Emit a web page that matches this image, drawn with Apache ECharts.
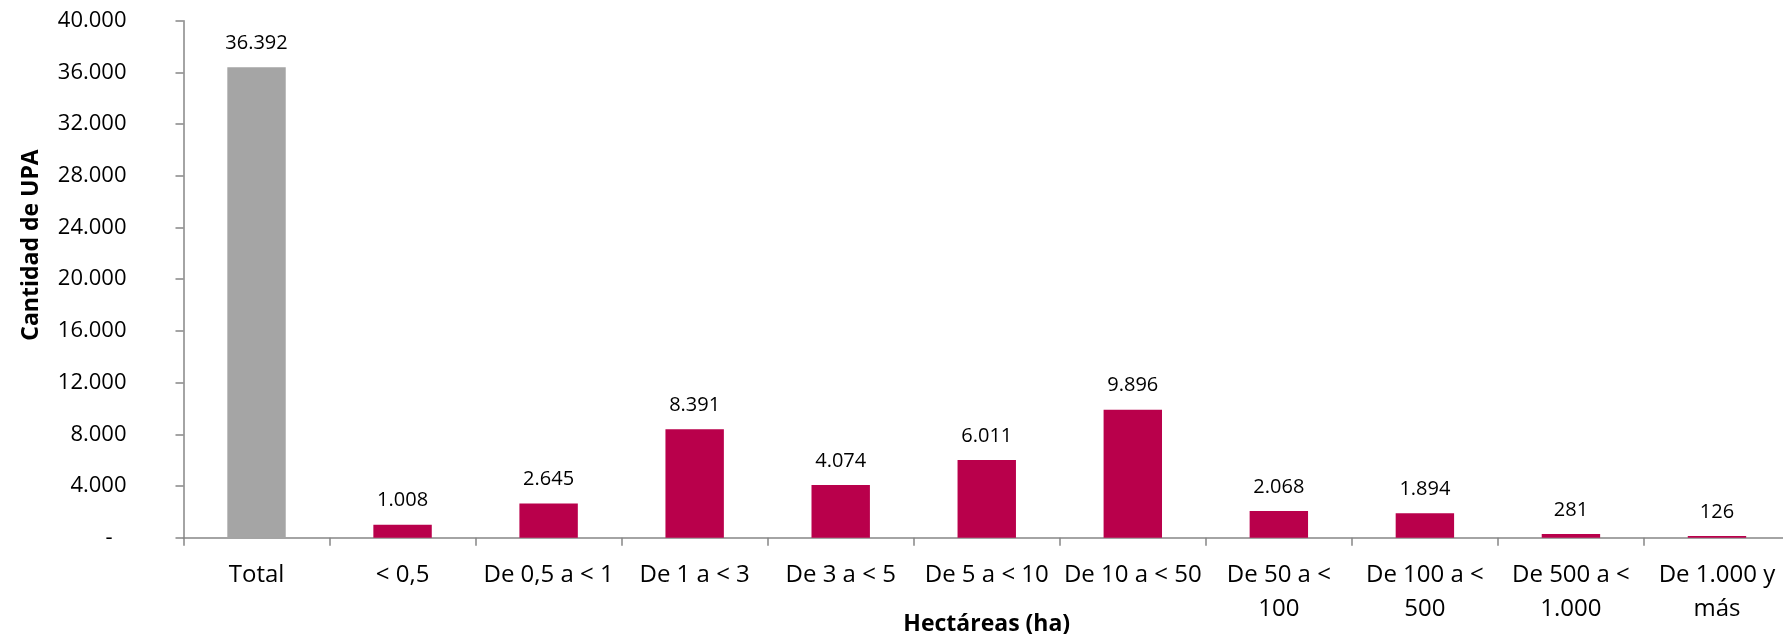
<!DOCTYPE html>
<html>
<head>
<meta charset="utf-8">
<script src="https://cdn.jsdelivr.net/npm/echarts@6/dist/echarts.min.js"></script>
<style>
html,body{margin:0;padding:0;background:#fff;}
#chart{width:1783px;height:634px;}
</style>
</head>
<body>
<div id="chart"></div>
<script>
const categories = ['Total', '< 0,5', 'De 0,5 a < 1', 'De 1 a < 3', 'De 3 a < 5', 'De 5 a < 10', 'De 10 a < 50', 'De 50 a <\n100', 'De 100 a <\n500', 'De 500 a <\n1.000', 'De 1.000 y\nmás'];
const values = [36392, 1008, 2645, 8391, 4074, 6011, 9896, 2068, 1894, 281, 126];
const yTicks = [0, 4000, 8000, 12000, 16000, 20000, 24000, 28000, 32000, 36000, 40000];
const yAxisTitle = 'Cantidad de UPA';
const xAxisTitle = 'Hectáreas (ha)';

const FONT = '"Open Sans", "Noto Sans", sans-serif';
const fmt = v => String(v).replace(/\B(?=(\d{3})+(?!\d))/g, '.');

const chart = echarts.init(document.getElementById('chart'));
chart.setOption({
  animation: false,
  textStyle: { fontFamily: FONT },
  grid: { left: 183.5, right: -7, top: 20.7, bottom: 96.3, containLabel: false, outerBoundsMode: 'none' },
  xAxis: {
    type: 'category',
    data: categories,
    name: xAxisTitle,
    nameLocation: 'middle',
    nameGap: 75,
    nameMoveOverlap: false,
    nameTextStyle: { fontFamily: FONT, fontWeight: 'bold', fontSize: 23, color: '#000' },
    axisLine: { lineStyle: { color: '#868686', width: 1.5 } },
    axisTick: { show: true, length: 8, lineStyle: { color: '#868686', width: 1.5 } },
    axisLabel: { interval: 0, margin: 20, fontSize: 24, lineHeight: 34, color: '#000', fontFamily: FONT }
  },
  yAxis: {
    type: 'value',
    min: yTicks[0],
    max: yTicks[yTicks.length - 1],
    interval: yTicks[1] - yTicks[0],
    splitLine: { show: false },
    axisLine: { show: true, lineStyle: { color: '#868686', width: 1.5 } },
    axisTick: { show: true, length: 8, lineStyle: { color: '#868686', width: 1.5 } },
    axisLabel: {
      margin: 57, fontSize: 22, color: '#000', fontFamily: FONT,
      formatter: v => v === 0 ? '{z|-}' : fmt(v),
      rich: { z: { fontSize: 22, color: '#000', fontFamily: FONT, padding: [0, 14, 0, 0] } }
    }
  },
  graphic: [{
    type: 'text',
    x: 31.5,
    y: 245,
    rotation: Math.PI / 2,
    style: {
      text: yAxisTitle,
      fontFamily: FONT, fontWeight: 'bold', fontSize: 23, fill: '#000',
      align: 'center', verticalAlign: 'middle'
    }
  }],
  series: [{
    type: 'bar',
    data: values.map((v, i) => ({ value: v, itemStyle: { color: i === 0 ? '#A5A5A5' : '#B9004B' } })),
    barWidth: '40%',
    label: {
      show: true, position: 'top', distance: 14,
      fontSize: 20, color: '#000', fontFamily: FONT,
      formatter: p => fmt(p.value)
    }
  }]
});
</script>
</body>
</html>
